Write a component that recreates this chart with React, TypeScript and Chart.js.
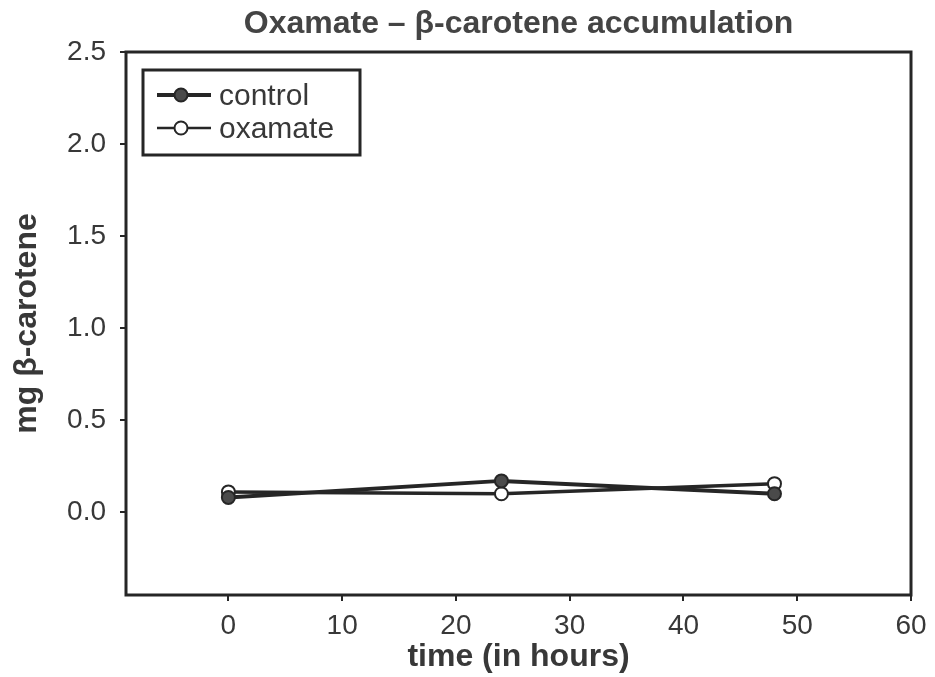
import React, { useEffect, useRef } from "react";
import { Chart, registerables } from "chart.js";

Chart.register(...registerables);

const hours = [0, 24, 48];
const controlValues = [0.08, 0.17, 0.1];
const oxamateValues = [0.11, 0.1, 0.155];
const xTickValues = [0, 10, 20, 30, 40, 50, 60];
const yTickValues = [0, 0.5, 1.0, 1.5, 2.0, 2.5];
const seriesLabels = ["control", "oxamate"];
const titleText = "Oxamate – β-carotene accumulation";
const xTitle = "time (in hours)";
const yTitle = "mg β-carotene";

const INK = "#262626";
const TEXT = "#383838";
const FONT = "'Liberation Sans', Arial, sans-serif";

const framePlugin = {
  id: "frame",
  afterDatasetsDraw(chart: any) {
    const { ctx, chartArea } = chart;
    ctx.save();
    ctx.strokeStyle = INK;
    ctx.lineWidth = 3;
    ctx.strokeRect(chartArea.left, chartArea.top, chartArea.right - chartArea.left, chartArea.bottom - chartArea.top);
    ctx.restore();
  },
};

const boxLegendPlugin = {
  id: "boxLegend",
  afterDraw(chart: any) {
    const { ctx, chartArea } = chart;
    const x0 = chartArea.left + 17;
    const y0 = chartArea.top + 18;
    const w = 217;
    const h = 85;
    ctx.save();
    ctx.fillStyle = "#fff";
    ctx.fillRect(x0, y0, w, h);
    ctx.strokeStyle = INK;
    ctx.lineWidth = 3;
    ctx.strokeRect(x0, y0, w, h);
    chart.data.datasets.forEach((ds: any, i: number) => {
      const cy = y0 + 25 + i * 33;
      ctx.strokeStyle = ds.borderColor;
      ctx.lineWidth = i === 0 ? 4 : 2.5;
      ctx.beginPath();
      ctx.moveTo(x0 + 14, cy);
      ctx.lineTo(x0 + 68, cy);
      ctx.stroke();
      ctx.beginPath();
      ctx.arc(x0 + 38, cy, 6.5, 0, Math.PI * 2);
      ctx.fillStyle = ds.pointBackgroundColor;
      ctx.fill();
      ctx.lineWidth = 2;
      ctx.strokeStyle = ds.pointBorderColor;
      ctx.stroke();
      ctx.fillStyle = TEXT;
      ctx.font = `30px ${FONT}`;
      ctx.textBaseline = "middle";
      ctx.textAlign = "left";
      ctx.fillText(ds.label, x0 + 76, cy + 2);
    });
    ctx.restore();
  },
};

export default function App() {
  const ref = useRef<HTMLCanvasElement | null>(null);
  useEffect(() => {
    if (!ref.current) return;
    const chart = new Chart(ref.current, {
      type: "line",
      data: {
        datasets: [
          {
            label: seriesLabels[0],
            data: hours.map((h, i) => ({ x: h, y: controlValues[i] })),
            borderColor: INK,
            borderWidth: 4,
            pointRadius: 6.5,
            pointBorderWidth: 2,
            pointBackgroundColor: "#4a4a4a",
            pointBorderColor: INK,
          },
          {
            label: seriesLabels[1],
            data: hours.map((h, i) => ({ x: h, y: oxamateValues[i] })),
            borderColor: INK,
            borderWidth: 3.5,
            pointRadius: 6.5,
            pointBorderWidth: 2,
            pointBackgroundColor: "#ffffff",
            pointBorderColor: INK,
          },
        ],
      },
      options: {
        animation: false,
        responsive: false,
        maintainAspectRatio: false,
        layout: { padding: { left: 0, right: 24, top: 0, bottom: 0 } },
        plugins: {
          legend: { display: false },
          tooltip: { enabled: false },
          title: {
            display: true,
            text: titleText,
            fullSize: false,
            color: "#444",
            font: { family: FONT, size: 32, weight: "bold" },
            padding: { top: 5, bottom: 8.6 },
          },
        },
        scales: {
          x: {
            type: "linear",
            min: -9,
            max: 60,
            afterBuildTicks: (s: any) => {
              s.ticks = xTickValues.map((v) => ({ value: v }));
            },
            afterFit: (s: any) => {
              s.height = 82;
            },
            border: { display: false },
            grid: { drawOnChartArea: false, drawTicks: true, tickLength: 6, tickColor: INK, lineWidth: 2 },
            ticks: { color: TEXT, font: { family: FONT, size: 28 }, padding: 8, maxRotation: 0 },
            title: {
              display: true,
              text: xTitle,
              color: TEXT,
              font: { family: FONT, size: 32, weight: "bold" },
              padding: { top: 0, bottom: 1 },
            },
          },
          y: {
            type: "linear",
            min: -0.45,
            max: 2.5,
            afterBuildTicks: (s: any) => {
              s.ticks = yTickValues.map((v) => ({ value: v }));
            },
            afterFit: (s: any) => {
              s.width = 126;
            },
            border: { display: false },
            grid: { drawOnChartArea: false, drawTicks: true, tickLength: 6, tickColor: INK, lineWidth: 2 },
            ticks: {
              color: TEXT,
              font: { family: FONT, size: 28 },
              padding: 14,
              callback: (v: any) => Number(v).toFixed(1),
            },
            title: {
              display: true,
              text: yTitle,
              color: TEXT,
              font: { family: FONT, size: 32, weight: "bold" },
              padding: { top: 8, bottom: 0 },
            },
          },
        },
      },
      plugins: [framePlugin, boxLegendPlugin],
    } as any);
    return () => chart.destroy();
  }, []);
  return (
    <div style={{ position: "fixed", left: 0, top: 0, width: 935, height: 677, background: "#fff" }}>
      <canvas ref={ref} width={935} height={677} style={{ width: 935, height: 677, display: "block" }} />
    </div>
  );
}
